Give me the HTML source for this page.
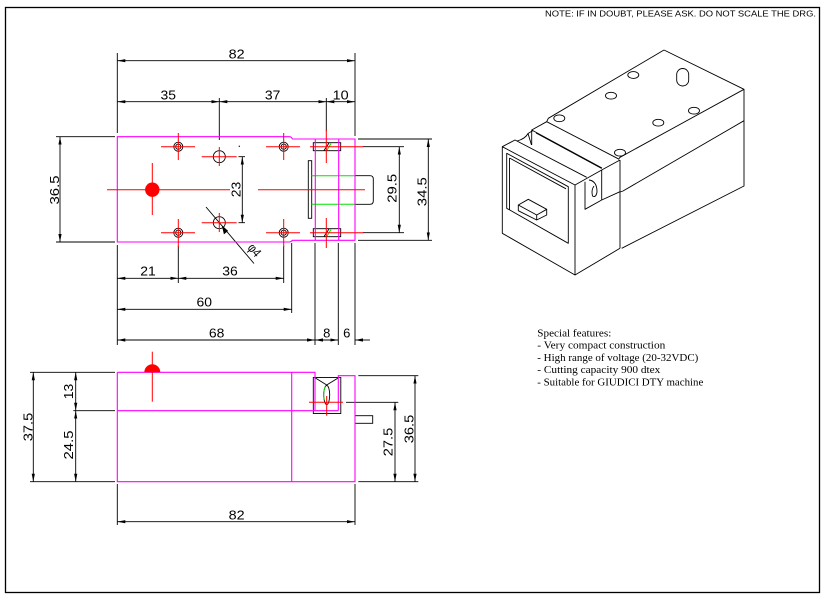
<!DOCTYPE html>
<html><head><meta charset="utf-8"><style>
html,body{margin:0;padding:0;background:#fff;}
svg{display:block;}
.d{font-family:"Liberation Sans",sans-serif;font-size:13px;fill:#000;}
.s{font-family:"Liberation Serif",serif;font-size:11px;fill:#000;}
</style></head><body>
<svg width="828" height="599" viewBox="0 0 828 599" xmlns="http://www.w3.org/2000/svg">
<defs>
<marker id="a" markerUnits="userSpaceOnUse" markerWidth="8" markerHeight="4" refX="8" refY="2" orient="auto-start-reverse" viewBox="0 0 8 4"><path d="M0,0.4 L8,2 L0,3.6z" fill="#000"/></marker>
</defs>
<rect x="0" y="0" width="828" height="599" fill="#fff"/>
<rect x="5.5" y="7.5" width="814" height="585" fill="none" stroke="#000" stroke-width="1.3"/>
<text x="545" y="16.5" font-family="Liberation Sans, sans-serif" font-size="8.5" textLength="271" lengthAdjust="spacingAndGlyphs">NOTE: IF IN DOUBT, PLEASE ASK. DO NOT SCALE THE DRG.</text>

<!-- ===== TOP VIEW ===== -->
<g stroke="#000" stroke-width="0.9" fill="none">
 <!-- extension lines -->
 <path d="M117.3,53 V133 M355,53 V136 M219.3,98 V140 M326.3,98 V131"/>
 <path d="M56,136.7 H115 M56,242 H115"/>
 <path d="M358,139 H432 M358,240.3 H432 M363,146.7 H404 M363,232.7 H404"/>
 <path d="M117.3,245 V345 M178.3,246 V283 M283.7,246 V283 M291.7,243 V313 M315,243 V345 M338.3,243 V345 M355,243 V345"/>
 <!-- dimension lines -->
 <path d="M117.3,60.7 H355" marker-start="url(#a)" marker-end="url(#a)"/>
 <path d="M117.3,101.7 H219.3" marker-start="url(#a)" marker-end="url(#a)"/>
 <path d="M219.3,101.7 H326.3" marker-start="url(#a)" marker-end="url(#a)"/>
 <path d="M326.3,101.7 H355" marker-start="url(#a)" marker-end="url(#a)"/>
 <path d="M60,136.7 V242" marker-start="url(#a)" marker-end="url(#a)"/>
 <path d="M242.3,156.7 V222.7" marker-start="url(#a)" marker-end="url(#a)"/>
 <path d="M238.5,156.7 H245 M238.5,222.7 H245"/>
 <path d="M399.3,146.7 V232.7" marker-start="url(#a)" marker-end="url(#a)"/>
 <path d="M428.3,139 V240.3" marker-start="url(#a)" marker-end="url(#a)"/>
 <path d="M117.3,278.3 H178.3" marker-start="url(#a)" marker-end="url(#a)"/>
 <path d="M178.3,278.3 H283.7" marker-start="url(#a)" marker-end="url(#a)"/>
 <path d="M117.3,309.3 H291.7" marker-start="url(#a)" marker-end="url(#a)"/>
 <path d="M117.3,340 H315" marker-start="url(#a)" marker-end="url(#a)"/>
 <path d="M315,340 H338.3" marker-start="url(#a)" marker-end="url(#a)"/>
 <path d="M370,340 H355" marker-end="url(#a)"/>
 <!-- phi4 leader -->
 <path d="M206,207 L254,263.5"/>
 <path d="M222.5,226.4 L224.2,233.6 L227.4,230.9 Z" fill="#000"/>
 <!-- part black details -->
 <circle cx="178.3" cy="146.7" r="4.5"/><circle cx="178.3" cy="146.7" r="2.6"/>
 <circle cx="283.7" cy="146.7" r="4.5"/><circle cx="283.7" cy="146.7" r="2.6"/>
 <circle cx="178.3" cy="232.7" r="4.5"/><circle cx="178.3" cy="232.7" r="2.6"/>
 <circle cx="283.7" cy="232.7" r="4.5"/><circle cx="283.7" cy="232.7" r="2.6"/>
 <circle cx="219.3" cy="156.7" r="6"/>
 <circle cx="219.3" cy="222.7" r="6"/>
 <rect x="308.3" y="160.7" width="3.4" height="57.6"/>
 <rect x="313.3" y="142.7" width="27.4" height="8"/>
 <rect x="313.3" y="228.7" width="27.4" height="8"/>
 <path d="M324,150.5 L329,143 M324,236.5 L329,229"/>
 <path d="M355,175.7 H370 Q373.3,175.7 373.3,179 V201 Q373.3,204.3 370,204.3 H355"/>
</g>
<circle cx="239.3" cy="146.3" r="0.7" fill="#000"/>
<!-- green lines -->
<g stroke="#00e000" stroke-width="1" fill="none">
 <path d="M311.7,175.7 H355 M311.7,204.3 H355"/>
 <path d="M327,150 L331,143.5 M327,236 L331,229.5"/>
</g>
<!-- magenta outline -->
<g stroke="#ff00ff" stroke-width="1.1" fill="none">
 <path d="M117.3,136.7 H289.5 Q291,136.7 292.5,139 H355 V240.3 H292.5 Q291,242 289.5,242 H117.3 Z"/>
 <path d="M315.3,139 V240.3 M338.7,139 V240.3"/>
</g>
<!-- red center lines -->
<g stroke="#ff0000" stroke-width="1" fill="none">
 <path d="M161,146.7 H195 M178.3,133 V160"/>
 <path d="M266,146.7 H300 M283.7,133 V160"/>
 <path d="M161,232.7 H195 M178.3,219 V247"/>
 <path d="M266,232.7 H300 M283.7,219 V247"/>
 <path d="M201.7,156.7 H236.7 M219.3,147 V166"/>
 <path d="M201.7,222.7 H236.7 M219.3,213 V232"/>
 <path d="M107,189.7 H230 M152.3,163 V215"/>
 <path d="M258,189.7 H365"/>
 <path d="M310,146.7 H363 M326.3,130 V163"/>
 <path d="M310,232.7 H363 M326.3,218 V248"/>
</g>
<circle cx="152.3" cy="189.7" r="7.2" fill="#ff0000"/>

<!-- top view texts -->
<text class="d" x="236.7" y="58.3" text-anchor="middle" textLength="16" lengthAdjust="spacingAndGlyphs">82</text>
<text class="d" x="168.3" y="99.3" text-anchor="middle" textLength="15.5" lengthAdjust="spacingAndGlyphs">35</text>
<text class="d" x="272.7" y="99.3" text-anchor="middle" textLength="15.5" lengthAdjust="spacingAndGlyphs">37</text>
<text class="d" x="340.7" y="99.3" text-anchor="middle" textLength="16" lengthAdjust="spacingAndGlyphs">10</text>
<text class="d" transform="translate(59,190) rotate(-90)" text-anchor="middle" textLength="29" lengthAdjust="spacingAndGlyphs">36.5</text>
<text class="d" transform="translate(240.6,189.5) rotate(-90)" text-anchor="middle" textLength="15.5" lengthAdjust="spacingAndGlyphs">23</text>
<text class="d" transform="translate(396.7,188.3) rotate(-90)" text-anchor="middle" textLength="29" lengthAdjust="spacingAndGlyphs">29.5</text>
<text class="d" transform="translate(426.7,191.7) rotate(-90)" text-anchor="middle" textLength="29" lengthAdjust="spacingAndGlyphs">34.5</text>
<text class="d" transform="translate(247,248) rotate(50)" font-size="11" textLength="13" lengthAdjust="spacingAndGlyphs">φ4</text>
<text class="d" x="148" y="275.7" text-anchor="middle" textLength="15.5" lengthAdjust="spacingAndGlyphs">21</text>
<text class="d" x="230" y="275.7" text-anchor="middle" textLength="15.5" lengthAdjust="spacingAndGlyphs">36</text>
<text class="d" x="204.3" y="306.3" text-anchor="middle" textLength="15.5" lengthAdjust="spacingAndGlyphs">60</text>
<text class="d" x="216.7" y="337.3" text-anchor="middle" textLength="15.5" lengthAdjust="spacingAndGlyphs">68</text>
<text class="d" x="326.7" y="337.3" text-anchor="middle">8</text>
<text class="d" x="346.7" y="337.3" text-anchor="middle">6</text>

<!-- ===== SIDE VIEW ===== -->
<g stroke="#000" stroke-width="0.9" fill="none">
 <path d="M30,372.3 H115 M30,481.7 H115 M73.3,410.7 H115"/>
 <path d="M33.3,372.3 V481.7" marker-start="url(#a)" marker-end="url(#a)"/>
 <path d="M75.7,372.3 V410.7" marker-start="url(#a)" marker-end="url(#a)"/>
 <path d="M75.7,410.7 V481.7" marker-start="url(#a)" marker-end="url(#a)"/>
 <path d="M358.3,375.7 H418.3 M346,402.3 H398.3 M358.3,481.7 H418.3"/>
 <path d="M395,402.3 V481.7" marker-start="url(#a)" marker-end="url(#a)"/>
 <path d="M415,375.7 V481.7" marker-start="url(#a)" marker-end="url(#a)"/>
 <path d="M117.3,484 V525 M355,484 V525"/>
 <path d="M117.3,521.7 H355" marker-start="url(#a)" marker-end="url(#a)"/>
 <rect x="313.3" y="377.5" width="27.5" height="36"/>
 <path d="M315,377.7 L326.7,385 L338.5,377.7"/>
 <ellipse cx="326.7" cy="395" rx="3" ry="9.5"/>
 <rect x="355" y="415.7" width="17.7" height="7.6"/>
</g>
<path d="M325.5,386.5 Q322,393 324.5,400" stroke="#00e000" stroke-width="1" fill="none"/>
<g stroke="#ff00ff" stroke-width="1.1" fill="none">
 <path d="M117.3,372.3 H315 V410.7 M117.3,372.3 V481.7 H355 V375.7 H338.3 V410.7 M117.3,410.7 H338.3 M291.7,372.3 V481.7"/>
</g>
<g stroke="#ff0000" stroke-width="1" fill="none">
 <path d="M152.3,351.7 V401.7"/>
 <path d="M309,402.3 H343 M326.7,396 V415.7"/>
</g>
<path d="M144.3,372.3 A8,8 0 0 1 160.3,372.3 Z" fill="#ff0000"/>
<text class="d" transform="translate(32.5,427) rotate(-90)" text-anchor="middle" textLength="28.5" lengthAdjust="spacingAndGlyphs">37.5</text>
<text class="d" transform="translate(73,391.5) rotate(-90)" text-anchor="middle" textLength="15.5" lengthAdjust="spacingAndGlyphs">13</text>
<text class="d" transform="translate(73,445) rotate(-90)" text-anchor="middle" textLength="29" lengthAdjust="spacingAndGlyphs">24.5</text>
<text class="d" transform="translate(392.7,442) rotate(-90)" text-anchor="middle" textLength="28.5" lengthAdjust="spacingAndGlyphs">27.5</text>
<text class="d" transform="translate(413.3,429) rotate(-90)" text-anchor="middle" textLength="28.5" lengthAdjust="spacingAndGlyphs">36.5</text>
<text class="d" x="236.7" y="519.5" text-anchor="middle" textLength="16" lengthAdjust="spacingAndGlyphs">82</text>

<!-- ===== 3D VIEW ===== -->
<g stroke="#000" stroke-width="0.9" fill="none" stroke-linejoin="round">
 <path d="M664,50 L744,89.3 L744,186 L621.7,248.3"/>
 <path d="M744,89.3 L620,157.3 L618.3,159.5"/>
 <path d="M620,160 V248.3"/>
 <path d="M744,120.7 L623,191 L620,192"/>
 <path d="M664,50 L548.3,118.3 L546.7,121.7 L531.7,130 V145"/>
 <path d="M546.7,121.7 L618.3,158.8"/>
 <path d="M531.7,130 L602,168"/>
 <path d="M536,133 L601.7,168.5"/>
 <!-- drawer -->
 <path d="M502.3,146.7 L575,185 V275 L502.3,233.3 Z"/>
 <path d="M502.3,146.7 L515,140 L586.7,177.3"/>
 <path d="M575,185 L601.7,170 V200 M575,275 L620,248.3"/>
 <path d="M585,181.7 V209.3 L601.7,200"/>
 <path d="M601.7,170 L620,160 M601.7,200 L620,191.7"/>
 <path d="M506.7,153.3 L568.3,186.7 V243.3 L506.7,208.3 Z"/>
 <path d="M509.5,158 L566,188.8 M509.5,158 V210"/>
 <path d="M518.3,205 L528.3,199.3 L546.7,209.3 V215 L536.7,220 L518.3,210.7 Z M518.3,205 L536.7,215 V220 M536.7,215 L546.7,209.3"/>
 <path d="M517,141 Q525,139 528,133.5 L533,130.5 M528,133.5 L531.5,145"/>
 <path d="M589,180 Q597,181 597,192 Q596,198 592.5,196 Q591,190 594,186"/>
 <!-- holes -->
 <ellipse cx="633.3" cy="75" rx="5.5" ry="3.4"/>
 <ellipse cx="611" cy="95.7" rx="5.5" ry="3.4"/>
 <ellipse cx="559.3" cy="118.3" rx="5.5" ry="3.4"/>
 <ellipse cx="658.3" cy="122.7" rx="5.5" ry="3.4"/>
 <ellipse cx="694" cy="110.7" rx="5.5" ry="3.4"/>
 <ellipse cx="620" cy="152.7" rx="5.5" ry="3.4"/>
 <rect x="676.7" y="68.5" width="12" height="17.5" rx="6" ry="6"/>
</g>

<!-- special features -->
<text class="s" x="537.3" y="336.5" textLength="74" lengthAdjust="spacingAndGlyphs">Special features:</text>
<text class="s" x="537.3" y="348.7" textLength="128" lengthAdjust="spacingAndGlyphs">- Very compact construction</text>
<text class="s" x="537.3" y="361" textLength="161" lengthAdjust="spacingAndGlyphs">- High range of voltage (20-32VDC)</text>
<text class="s" x="537.3" y="373.2" textLength="123" lengthAdjust="spacingAndGlyphs">- Cutting capacity 900 dtex</text>
<text class="s" x="537.3" y="385.5" textLength="166" lengthAdjust="spacingAndGlyphs">- Suitable for GIUDICI DTY machine</text>
</svg>
</body></html>
